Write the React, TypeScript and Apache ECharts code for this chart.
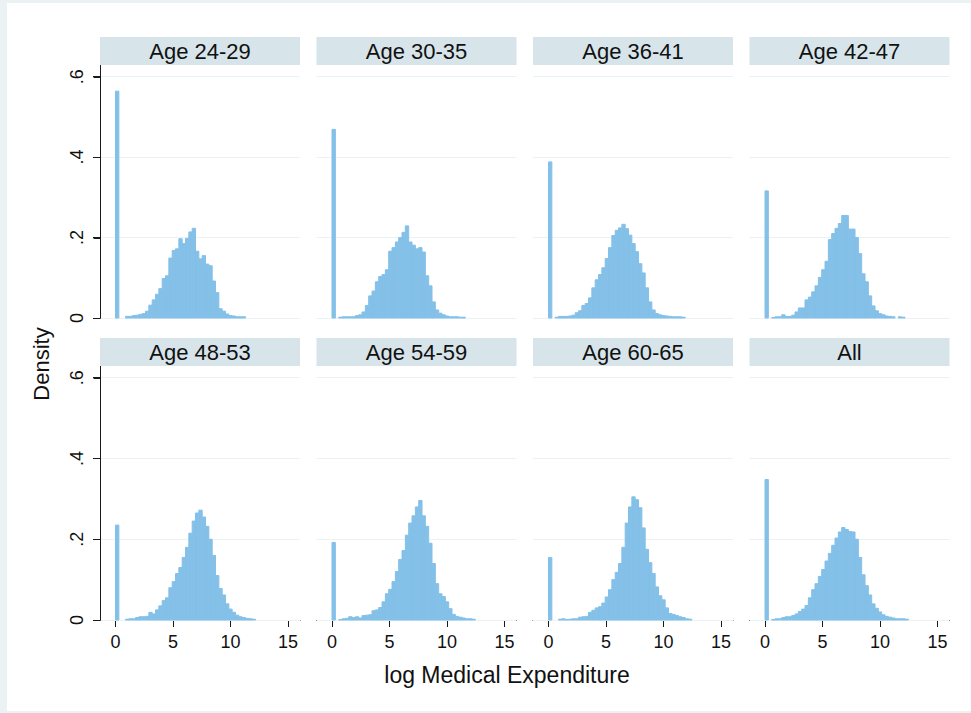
import React, { useEffect, useRef } from "react";
import * as echarts from "echarts";

const panelTitles = ["Age 24-29", "Age 30-35", "Age 36-41", "Age 42-47", "Age 48-53", "Age 54-59", "Age 60-65", "All"];
const binWidth = 0.29;
const xTicks = [0, 5, 10, 15];
const yTicks = [0, 0.2, 0.4, 0.6];

const age2429 = [0.564, 0, 0, 0.004, 0.004, 0.006, 0.007, 0.009, 0.011, 0.017, 0.032, 0.045, 0.059, 0.073, 0.098, 0.105, 0.149, 0.168, 0.172, 0.197, 0.185, 0.198, 0.214, 0.223, 0.166, 0.147, 0.155, 0.134, 0.13, 0.092, 0.063, 0.023, 0.017, 0.01, 0.006, 0.005, 0.003, 0.003, 0.003];
const age3035 = [0.469, 0, 0.002, 0.003, 0.003, 0.003, 0.003, 0.006, 0.008, 0.015, 0.031, 0.055, 0.067, 0.09, 0.103, 0.108, 0.12, 0.166, 0.175, 0.189, 0.2, 0.213, 0.229, 0.189, 0.181, 0.172, 0.175, 0.164, 0.105, 0.08, 0.04, 0.02, 0.012, 0.008, 0.005, 0.003, 0.003, 0.003, 0.002, 0.002];
const age3641 = [0.388, 0, 0.002, 0.004, 0.004, 0.004, 0.005, 0.007, 0.013, 0.018, 0.031, 0.036, 0.05, 0.075, 0.095, 0.108, 0.125, 0.148, 0.175, 0.205, 0.218, 0.224, 0.233, 0.222, 0.206, 0.185, 0.165, 0.135, 0.112, 0.075, 0.04, 0.02, 0.011, 0.008, 0.006, 0.005, 0.004, 0.003, 0.003, 0.003, 0.002];
const age4247 = [0.316, 0, 0.001, 0.003, 0.003, 0.008, 0.004, 0.004, 0.007, 0.015, 0.025, 0.025, 0.045, 0.052, 0.065, 0.08, 0.101, 0.12, 0.141, 0.195, 0.21, 0.223, 0.235, 0.255, 0.255, 0.221, 0.221, 0.2, 0.16, 0.11, 0.09, 0.055, 0.03, 0.018, 0.011, 0.008, 0.005, 0.004, 0.003, 0, 0.003, 0.002];
const age4853 = [0.235, 0, 0, 0.002, 0.003, 0.003, 0.006, 0.008, 0.008, 0.009, 0.019, 0.015, 0.025, 0.035, 0.048, 0.055, 0.08, 0.095, 0.115, 0.13, 0.155, 0.18, 0.215, 0.245, 0.265, 0.272, 0.255, 0.232, 0.2, 0.16, 0.11, 0.078, 0.062, 0.04, 0.027, 0.019, 0.012, 0.008, 0.006, 0.004, 0.003, 0.002];
const age5459 = [0.192, 0, 0.001, 0.003, 0.004, 0.008, 0.006, 0.008, 0.005, 0.011, 0.012, 0.013, 0.023, 0.025, 0.031, 0.045, 0.065, 0.076, 0.095, 0.12, 0.15, 0.172, 0.21, 0.24, 0.258, 0.28, 0.296, 0.258, 0.232, 0.19, 0.14, 0.09, 0.065, 0.058, 0.045, 0.028, 0.014, 0.009, 0.007, 0.005, 0.003, 0.003, 0.002];
const age6065 = [0.155, 0, 0, 0.002, 0.003, 0.001, 0.002, 0.003, 0.003, 0.007, 0.008, 0.009, 0.019, 0.024, 0.03, 0.033, 0.042, 0.057, 0.075, 0.1, 0.118, 0.14, 0.18, 0.24, 0.28, 0.305, 0.298, 0.278, 0.228, 0.175, 0.142, 0.115, 0.082, 0.06, 0.05, 0.03, 0.016, 0.014, 0.011, 0.008, 0.006, 0.003, 0.002];
const ageAll = [0.348, 0, 0.001, 0.003, 0.003, 0.006, 0.008, 0.008, 0.011, 0.015, 0.021, 0.027, 0.036, 0.055, 0.075, 0.09, 0.108, 0.125, 0.146, 0.165, 0.185, 0.203, 0.218, 0.229, 0.224, 0.219, 0.218, 0.2, 0.155, 0.112, 0.085, 0.062, 0.04, 0.029, 0.02, 0.013, 0.009, 0.007, 0.005, 0.003, 0.003, 0.003, 0.002];

const panelValues = [age2429, age3035, age3641, age4247, age4853, age5459, age6065, ageAll];

const BAR = "#84c0e8";
const INK = "#1a1a1a";
const FONT = "'Liberation Sans', Arial, Helvetica, sans-serif";
const X_MIN = -1.35;
const X_MAX = 16.05;
const Y_MAX = 0.629;

export default function App() {
  const ref = useRef<HTMLDivElement>(null);
  useEffect(() => {
    document.body.style.margin = "0";
    if (!ref.current) return;
    const chart = echarts.init(ref.current, undefined, { renderer: "svg" });
    // chart div sits at (7, 3) on the page
    const OX = 7;
    const OY = 3;
    const lefts = [100 - OX, 316.5 - OX, 533 - OX, 749.5 - OX];
    const rows = [
      { top: 65 - OY, height: 253 },
      { top: 366 - OY, height: 254 },
    ];
    const W = 200;
    const grids: any[] = [];
    const xAxes: any[] = [];
    const yAxes: any[] = [];
    const series: any[] = [];
    const graphics: any[] = [];

    const yLabelFormatter = (v: number) => {
      if (!yTicks.some((t) => Math.abs(t - v) < 1e-9)) return "";
      return v === 0 ? "0" : v.toFixed(1).replace(/^0/, "");
    };

    panelValues.forEach((vals, p) => {
      const col = p % 4;
      const row = Math.floor(p / 4);
      const left = lefts[col];
      const r = rows[row];
      grids.push({ left, top: r.top, width: W, height: r.height });
      const bottomRow = row === 1;
      const leftCol = col === 0;
      xAxes.push({
        gridIndex: p,
        type: "value",
        position: "bottom",
        min: X_MIN,
        max: X_MAX,
        show: bottomRow,
        axisLine: { show: bottomRow, onZero: false, lineStyle: { color: INK, width: 1 } },
        axisTick: { show: bottomRow, length: 7, customValues: xTicks, lineStyle: { color: INK } },
        axisLabel: {
          show: bottomRow,
          customValues: xTicks,
          margin: 13,
          fontSize: 18,
          fontFamily: FONT,
          color: "#111",
          formatter: (v: number) => (xTicks.includes(v) ? String(v) : ""),
        },
        splitLine: { show: false },
      });
      yAxes.push({
        gridIndex: p,
        type: "value",
        min: 0,
        max: Y_MAX,
        show: leftCol,
        axisLine: { show: leftCol, onZero: false, lineStyle: { color: INK, width: 1 } },
        axisTick: { show: leftCol, length: 7, customValues: yTicks, lineStyle: { color: INK, width: 1 } },
        axisLabel: {
          show: leftCol,
          customValues: yTicks,
          rotate: 90,
          margin: 14,
          fontSize: 18,
          fontFamily: FONT,
          color: "#111",
          formatter: yLabelFormatter,
        },
        splitLine: { show: false },
      });
      const gridLines: any[] = yTicks.map((t) => ({ yAxis: t, lineStyle: { color: "#eaf2f3", width: 1.2 } }));
      series.push({
        type: "custom",
        xAxisIndex: p,
        yAxisIndex: p,
        z: 2,
        data: vals.map((v, i) => [i * binWidth, (i + 1) * binWidth, v]),
        encode: { x: [0, 1], y: 2 },
        renderItem: (params: any, api: any) => {
          const x0 = api.value(0);
          const x1 = api.value(1);
          const y = api.value(2);
          if (!y) return null;
          const a = api.coord([x0, y]);
          const b = api.coord([x1, 0]);
          return {
            type: "rect",
            shape: { x: a[0], y: a[1], width: b[0] - a[0], height: b[1] - a[1] },
            style: { fill: BAR, stroke: BAR, lineWidth: 1 },
          };
        },
        markLine: {
          silent: true,
          symbol: "none",
          z: 1,
          label: { show: false },
          lineStyle: { type: "solid" },
          data: gridLines,
          animation: false,
        },
      });
      if (leftCol) {
        // left density-axis rule and its ticks, placed through the panel's own scales
        series.push({
          type: "custom",
          xAxisIndex: p,
          yAxisIndex: p,
          z: 10,
          clip: false,
          silent: true,
          data: [[X_MIN, 0]],
          encode: { x: 0, y: 1 },
          renderItem: (params: any, api: any) => {
            const base = api.coord([X_MIN, 0]);
            const topPt = api.coord([X_MIN, Y_MAX]);
            const x = Math.round(base[0]) + 0.5;
            const children: any[] = [
              {
                type: "line",
                shape: { x1: x, y1: topPt[1], x2: x, y2: base[1] + 0.5 },
                style: { stroke: INK, lineWidth: 1 },
              },
            ];
            yTicks.forEach((t) => {
              const pt = api.coord([X_MIN, t]);
              const yy = Math.round(pt[1]) + 0.5;
              children.push({
                type: "line",
                shape: { x1: x - 7, y1: yy, x2: x, y2: yy },
                style: { stroke: INK, lineWidth: 1 },
              });
            });
            return { type: "group", children };
          },
        });
      }
      graphics.push({
        type: "rect",
        z: 1,
        shape: { x: left, y: r.top - 28, width: W, height: 28 },
        style: { fill: "#d7e5eb" },
      });
      graphics.push({
        type: "text",
        z: 2,
        x: left + W / 2,
        y: r.top - 14,
        style: {
          text: panelTitles[p],
          font: `22px ${FONT}`,
          fill: "#111",
          align: "center",
          verticalAlign: "middle",
        },
      });
    });

    graphics.push({
      type: "text",
      x: 41 - OX,
      y: 364 - OY,
      rotation: Math.PI / 2,
      style: { text: "Density", font: `22px ${FONT}`, fill: "#111", align: "center", verticalAlign: "middle" },
    });
    graphics.push({
      type: "text",
      x: 507 - OX,
      y: 675 - OY,
      style: { text: "log Medical Expenditure", font: `23px ${FONT}`, fill: "#111", align: "center", verticalAlign: "middle" },
    });
    chart.setOption({
      animation: false,
      backgroundColor: "#ffffff",
      grid: grids,
      xAxis: xAxes,
      yAxis: yAxes,
      series,
      graphic: graphics,
    });
    return () => chart.dispose();
  }, []);
  return (
    <div style={{ width: 971, height: 713, background: "#eaf2f3", position: "relative", overflow: "hidden" }}>
      <div ref={ref} style={{ position: "absolute", left: 7, top: 3, width: 964, height: 708 }} />
    </div>
  );
}
